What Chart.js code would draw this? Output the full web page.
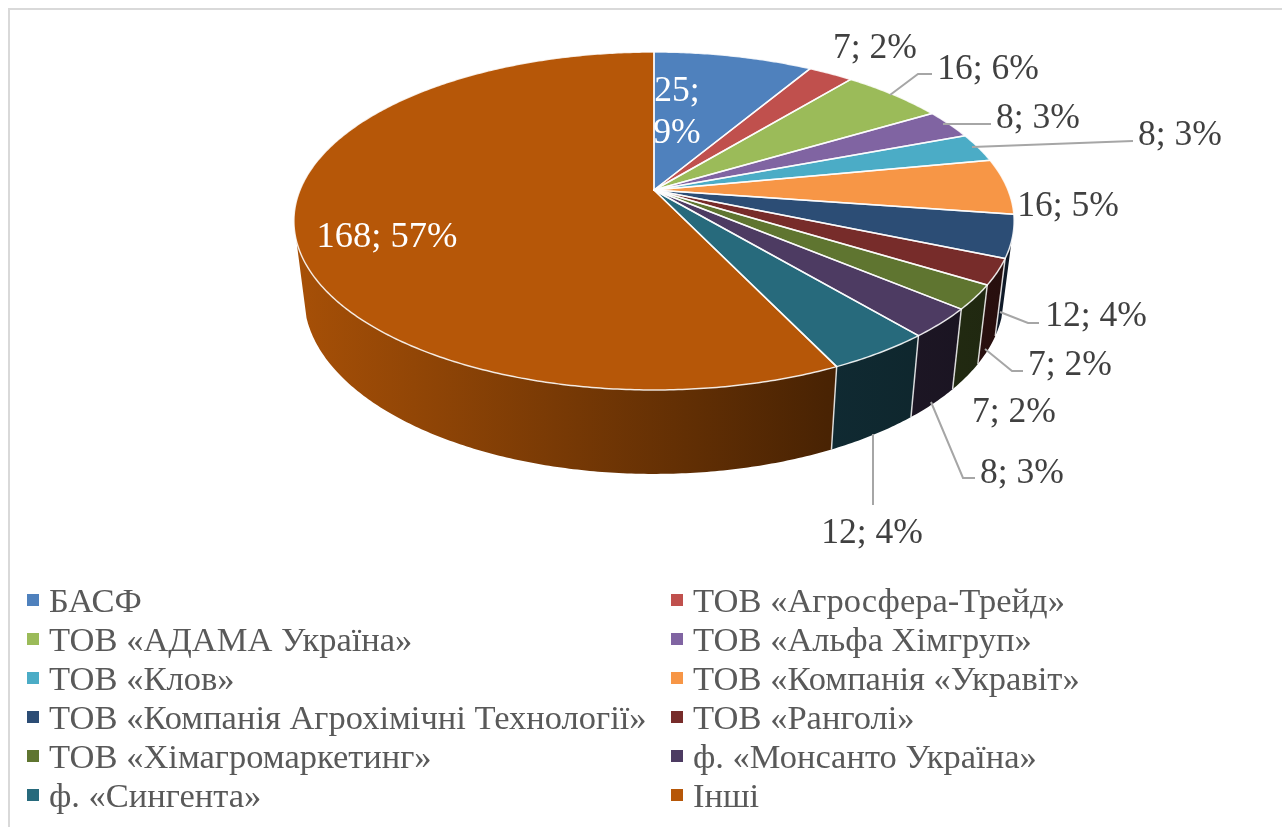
<!DOCTYPE html>
<html lang="uk">
<head>
<meta charset="utf-8">
<title>Pie</title>
<script src="https://cdn.jsdelivr.net/npm/chart.js@4"></script>
<style>
    html, body { margin: 0; padding: 0; background: #fff; overflow: hidden; }
    #wrap { position: relative; width: 1282px; height: 827px; }
    #frame { position: absolute; left: 8px; top: 8px; right: -4px; bottom: -4px; border: 2px solid #d9d9d9; }
    canvas { position: absolute; left: 0; top: 0; }
    #legend { position: absolute; left: 0; top: 0; font-family: "Liberation Serif", serif; font-size: 34.5px; color: #595959; }
    .item { position: absolute; white-space: nowrap; line-height: 40px; height: 40px; }
    .item i { position: absolute; left: -22px; top: 14px; width: 12px; height: 12px; }
</style>
</head>
<body>
<div id="wrap">
    <div id="frame"></div>
    <canvas id="pie" width="1282" height="827"></canvas>
    <div id="legend"></div>
</div>
<script>
// data
const categories = [
    'БАСФ', 'ТОВ «Агросфера-Трейд»', 'ТОВ «АДАМА Україна»', 'ТОВ «Альфа Хімгруп»',
    'ТОВ «Клов»', 'ТОВ «Компанія «Укравіт»', 'ТОВ «Компанія Агрохімічні Технології»', 'ТОВ «Ранголі»',
    'ТОВ «Хімагромаркетинг»', 'ф. «Монсанто Україна»', 'ф. «Сингента»', 'Інші'
];
const values = [25.1, 7.1, 16.2, 8.2, 8.1, 15.7, 11.9, 7.2, 6.8, 8.2, 11.8, 168];
const colors = ['#4F81BD', '#C0504D', '#9BBB59', '#8064A2', '#4BACC6', '#F79646',
                '#2C4D75', '#772C2A', '#5F7530', '#4D3B62', '#276A7C', '#B65708'];

// where the data labels sit, same order as values
const labelSpots = [
    { x: 677, y: 113, color: '#fff', wrap: true },
    { x: 875, y: 49 }, { x: 988, y: 70 }, { x: 1038, y: 119 }, { x: 1180, y: 136 },
    { x: 1068, y: 207 }, { x: 1096, y: 317 }, { x: 1070, y: 366 }, { x: 1014, y: 413 },
    { x: 1022, y: 474 }, { x: 872, y: 534 }, { x: 387, y: 237, color: '#fff', size: 36.5 }
];
// leader lines
const leaders = [
    [[890, 95], [918, 74], [932, 74]],
    [[943, 124], [991, 124]],
    [[972, 147], [1133, 141]],
    [[1000, 312], [1028, 323], [1039, 323]],
    [[985, 349], [1012, 371], [1023, 371]],
    [[931, 402], [963, 478], [975, 478]],
    [[873, 434], [873, 505]]
];

// perspective of the disc: the centre of the circle lands above the centre of the ellipse
const k = -0.1834;
const topFace = { cx: 654, cy: 190, a: 163.3, b: 354 };
const bottomFace = { cx: 654, cy: 264.5, a: 171, b: 344 };

function project(face, angle) {
    const u = Math.cos(angle), v = Math.sin(angle), d = 1 + k * v;
    return [face.cx + face.b * u / d, face.cy + face.a * v / d];
}

function shade(hex, f) {
    const n = parseInt(hex.slice(1), 16);
    return 'rgb(' + [(n >> 16) & 255, (n >> 8) & 255, n & 255].map(c => Math.round(c * f)).join(',') + ')';
}

function rim(ctx, face, from, to) {
    const steps = Math.max(2, Math.ceil(Math.abs(to - from) / 0.01));
    for (let i = 0; i <= steps; i++) {
        const p = project(face, from + (to - from) * i / steps);
        ctx.lineTo(p[0], p[1]);
    }
}

// arcs are computed by the library, only the drawing is replaced
const pie3d = {
    id: 'pie3d',
    beforeDatasetsDraw(chart) {
        const ctx = chart.ctx;
        const arcs = chart.getDatasetMeta(0).data;
        const wallFrom = 0.3, wallTo = Math.PI - 0.3;
        ctx.save();

        // side wall
        arcs.forEach((arc, i) => {
            const from = Math.max(arc.startAngle, wallFrom);
            const to = Math.min(arc.endAngle, wallTo);
            if (to <= from) return;
            const g = ctx.createLinearGradient(295, 0, 1014, 0);
            g.addColorStop(0, shade(colors[i], 0.92));
            g.addColorStop(0.74, shade(colors[i], 0.4));
            g.addColorStop(1, shade(colors[i], 0.33));
            ctx.beginPath();
            rim(ctx, topFace, from, to);
            rim(ctx, bottomFace, to, from);
            ctx.closePath();
            ctx.fillStyle = g;
            ctx.fill();
        });
        // lines between the wall parts
        ctx.strokeStyle = 'rgba(255,255,255,0.8)';
        ctx.lineWidth = 1.5;
        arcs.forEach(arc => {
            const a = arc.endAngle;
            if (a <= wallFrom || a >= wallTo) return;
            const p = project(topFace, a), q = project(bottomFace, a);
            ctx.beginPath();
            ctx.moveTo(p[0], p[1]);
            ctx.lineTo(q[0], q[1]);
            ctx.stroke();
        });

        // top of the disc
        arcs.forEach((arc, i) => {
            ctx.beginPath();
            ctx.moveTo(topFace.cx, topFace.cy);
            rim(ctx, topFace, arc.startAngle, arc.endAngle);
            ctx.closePath();
            ctx.fillStyle = colors[i];
            ctx.fill();
        });
        arcs.forEach(arc => {
            ctx.beginPath();
            ctx.moveTo(topFace.cx, topFace.cy);
            rim(ctx, topFace, arc.startAngle, arc.endAngle);
            ctx.closePath();
            ctx.strokeStyle = 'rgba(255,255,255,0.85)';
            ctx.lineWidth = 1.5;
            ctx.lineJoin = 'round';
            ctx.stroke();
        });
        ctx.restore();
        return false;
    },
    afterDraw(chart) {
        const ctx = chart.ctx;
        const total = values.reduce((s, v) => s + v, 0);
        ctx.save();
        ctx.strokeStyle = '#a6a6a6';
        ctx.lineWidth = 2;
        leaders.forEach(line => {
            ctx.beginPath();
            line.forEach(p => ctx.lineTo(p[0], p[1]));
            ctx.stroke();
        });
        ctx.textAlign = 'center';
        ctx.textBaseline = 'middle';
        values.forEach((v, i) => {
            const spot = labelSpots[i];
            const head = Math.round(v) + ';';
            const pct = Math.round(v / total * 100) + '%';
            ctx.font = (spot.size || 35.5) + 'px "Liberation Serif"';
            ctx.fillStyle = spot.color || '#404040';
            if (spot.wrap) {
                ctx.fillText(head, spot.x, spot.y - 21);
                ctx.fillText(pct, spot.x, spot.y + 21);
            } else {
                ctx.fillText(head + ' ' + pct, spot.x, spot.y);
            }
        });
        ctx.restore();
    }
};

new Chart(document.getElementById('pie'), {
    type: 'pie',
    data: {
        labels: categories,
        datasets: [{ data: values, backgroundColor: colors }]
    },
    options: {
        responsive: false,
        animation: false,
        plugins: { legend: { display: false }, tooltip: { enabled: false } }
    },
    plugins: [pie3d]
});

// legend in two columns
const legend = document.getElementById('legend');
categories.forEach((name, i) => {
    const row = document.createElement('div');
    row.className = 'item';
    row.style.left = (i % 2 ? 693 : 49) + 'px';
    row.style.top = (580 + Math.floor(i / 2) * 39) + 'px';
    const box = document.createElement('i');
    box.style.background = colors[i];
    row.appendChild(box);
    row.appendChild(document.createTextNode(name));
    legend.appendChild(row);
});
</script>
</body>
</html>
